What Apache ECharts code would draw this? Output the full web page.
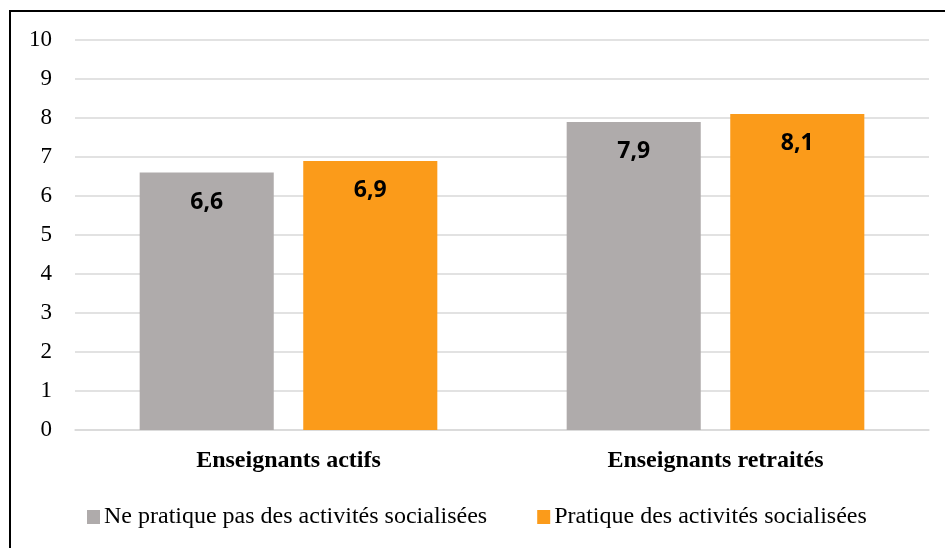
<!DOCTYPE html>
<html>
<head>
<meta charset="utf-8">
<script src="https://cdn.jsdelivr.net/npm/echarts@6/dist/echarts.min.js"></script>
<style>
  html, body { margin: 0; padding: 0; background: #fff; overflow: hidden; }
  #wrap { position: relative; width: 945px; height: 548px; overflow: hidden; }
  #chart { position: absolute; left: 0; top: 0; width: 945px; height: 548px; }
  #frame {
    position: absolute; left: 9px; top: 10px; width: 960px; height: 560px;
    border: 2px solid #000; pointer-events: none;
  }
</style>
</head>
<body>
<div id="wrap">
  <div id="chart"></div>
  <div id="frame"></div>
</div>
<script>
const categories = ["Enseignants actifs", "Enseignants retraités"];
const seriesNames = ["Ne pratique pas des activités socialisées", "Pratique des activités socialisées"];
const nonPratique = [6.6, 7.9];
const pratique = [6.9, 8.1];

const serif = "Liberation Serif";
const labelFont = "Open Sans";

const chart = echarts.init(document.getElementById("chart"));

function barSeries(name, data, color) {
  return {
    name: name,
    type: "bar",
    data: data,
    barWidth: "31.4%",
    barGap: "22%",
    itemStyle: { color: color },
    label: {
      show: true,
      position: "insideTop",
      distance: 18,
      fontFamily: labelFont,
      fontWeight: "bold",
      fontSize: 23,
      color: "#000",
      formatter: (p) => p.value.toFixed(1).replace(".", ","),
    },
  };
}

chart.setOption({
  animation: false,
  grid: { left: 75, right: 16, top: 40, bottom: 118 },
  legend: {
    left: 87,
    top: 505,
    padding: 0,
    itemWidth: 13,
    itemHeight: 14,
    itemGap: 50,
    icon: "rect",
    textStyle: { fontFamily: serif, fontSize: 24, color: "#000", padding: [0, 0, 0, -1] },
  },
  xAxis: {
    type: "category",
    data: categories,
    axisLine: { show: true, lineStyle: { color: "#d9d9d9", width: 1.5 } },
    axisTick: { show: false },
    axisLabel: {
      margin: 19,
      fontFamily: serif,
      fontWeight: "bold",
      fontSize: 24,
      color: "#000",
    },
  },
  yAxis: {
    type: "value",
    min: 0,
    max: 10,
    interval: 1,
    axisLine: { show: false },
    axisTick: { show: false },
    splitLine: { lineStyle: { color: "#d9d9d9", width: 1.5 } },
    axisLabel: {
      margin: 23,
      fontFamily: serif,
      fontSize: 23,
      color: "#000",
    },
  },
  series: [
    barSeries(seriesNames[0], nonPratique, "#afabab"),
    barSeries(seriesNames[1], pratique, "#fb9b1a"),
  ],
});
</script>
</body>
</html>
